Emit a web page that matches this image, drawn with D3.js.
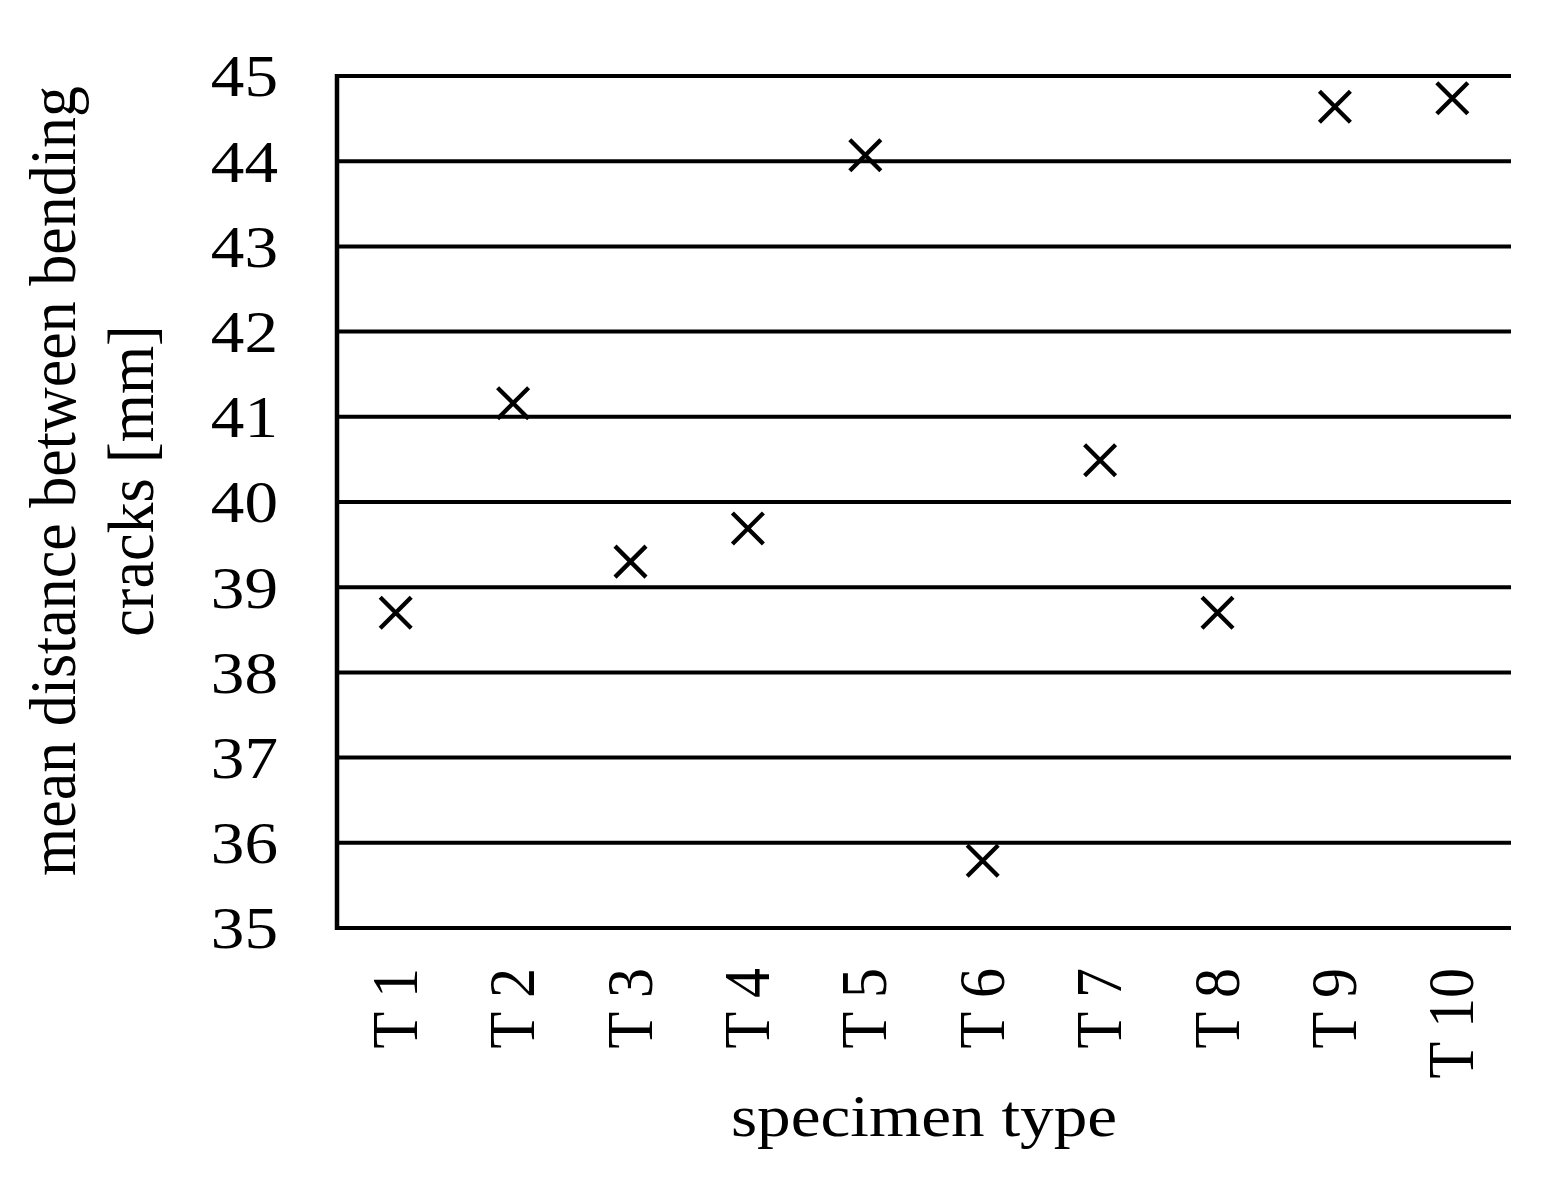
<!DOCTYPE html>
<html>
<head>
<meta charset="utf-8">
<script src="https://cdn.jsdelivr.net/npm/d3@7"></script>
<style>
  body { margin: 0; background: #fff; }
  svg { display: block; }
</style>
</head>
<body>
<div id="chart"></div>
<script>
// dati
var categories = ["T 1", "T 2", "T 3", "T 4", "T 5", "T 6", "T 7", "T 8", "T 9", "T 10"];
var values = [38.70, 41.16, 39.30, 39.69, 44.07, 35.79, 40.49, 38.70, 44.64, 44.74];
var yTicks = [35, 36, 37, 38, 39, 40, 41, 42, 43, 44, 45];

var width = 1557;
var height = 1193;
var margin = { top: 76, right: 46, bottom: 265, left: 337 };
var font = "'Liberation Serif', 'Times New Roman', serif";
var sx = 1.12; // il testo dell'originale e' un po' allargato in orizzontale

var svg = d3.select("#chart")
            .append("svg")
            .attr("width", width)
            .attr("height", height)
            .style("font-family", font);

var x = d3.scaleBand()
          .domain(categories)
          .range([margin.left, width - margin.right]);

var y = d3.scaleLinear()
          .domain([35, 45])
          .range([height - margin.bottom, margin.top]);

// linee orizzontali della griglia
svg.append("g")
   .selectAll("line")
   .data(yTicks)
   .enter()
   .append("line")
   .attr("x1", margin.left)
   .attr("x2", width - margin.right)
   .attr("y1", function(d) { return y(d); })
   .attr("y2", function(d) { return y(d); })
   .attr("stroke", "#000")
   .attr("stroke-width", 4);

// asse verticale
svg.append("line")
   .attr("x1", margin.left)
   .attr("x2", margin.left)
   .attr("y1", y(45) - 2)
   .attr("y2", y(35) + 2)
   .attr("stroke", "#000")
   .attr("stroke-width", 4.5);

// etichette asse y
svg.append("g")
   .selectAll("text")
   .data(yTicks)
   .enter()
   .append("text")
   .attr("transform", function(d) { return "translate(278," + y(d) + ") scale(" + sx + ",1)"; })
   .attr("dy", "0.34em")
   .attr("text-anchor", "end")
   .attr("font-size", 60)
   .attr("fill", "#000")
   .text(function(d) { return d; });

// etichette asse x (ruotate)
svg.append("g")
   .selectAll("text")
   .data(categories)
   .enter()
   .append("text")
   .attr("transform", function(d) {
       return "translate(" + (x(d) + x.bandwidth() / 2 - 1) + "," + 968 + ") scale(1.08,1) rotate(-90)";
   })
   .attr("dy", "0.34em")
   .attr("text-anchor", "end")
   .attr("font-size", 60)
   .attr("fill", "#000")
   .text(function(d) { return d; });

// marcatori a croce
var s = 15.5;
svg.append("g")
   .attr("stroke", "#000")
   .attr("stroke-width", 4.3)
   .selectAll("path")
   .data(values)
   .enter()
   .append("path")
   .attr("d", function(d, i) {
       var cx = x(categories[i]) + x.bandwidth() / 2;
       var cy = y(d);
       return "M" + (cx - s) + "," + (cy - s) + "L" + (cx + s) + "," + (cy + s) +
              "M" + (cx - s) + "," + (cy + s) + "L" + (cx + s) + "," + (cy - s);
   });

// titolo asse y
var yTitle = svg.append("text")
                .attr("transform", "translate(75,481) scale(1.05,1) rotate(-90)")
                .attr("text-anchor", "middle")
                .attr("font-size", 62)
                .attr("fill", "#000");
yTitle.append("tspan").attr("x", 0).attr("dy", 0).text("mean distance between bending");
yTitle.append("tspan").attr("x", 0).attr("dy", 78 / 1.05).text("cracks [mm]");

// titolo asse x
svg.append("text")
   .attr("transform", "translate(924,1136) scale(" + sx + ",1)")
   .attr("text-anchor", "middle")
   .attr("font-size", 60)
   .attr("fill", "#000")
   .text("specimen type");
</script>
</body>
</html>
